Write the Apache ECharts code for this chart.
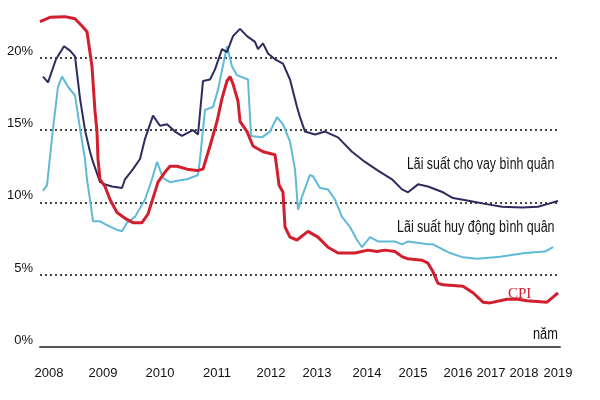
<!DOCTYPE html>
<html>
<head>
<meta charset="utf-8">
<script src="https://cdn.jsdelivr.net/npm/echarts@6/dist/echarts.min.js"></script>
<style>html,body{margin:0;padding:0;background:#fff}#c{width:600px;height:400px}</style>
</head>
<body>
<div id="c"></div>
<script>
// x axis: time index t (0..130), year labels at irregular positions as in the source graphic
const years = ['2008','2009','2010','2011','2012','2013','2014','2015','2016','2017','2018','2019'];
const yearPos = [2.25, 15.75, 30, 44.25, 57.75, 69.25, 81.75, 93.25, 104.5, 112.75, 121, 129.5];
const yTicks = [0, 5, 10, 15, 20];

// Lãi suất cho vay bình quân (%)
const lending = [
 [0.75,18.7],[2,18.3],[4,19.9],[6,20.8],[7.5,20.5],[8.75,20.1],[10,17.2],[11.25,15.0],[12.5,13.5],[13.25,12.8],
 [15,11.4],[16.75,11.2],[18,11.1],[20.5,11.0],[21.25,11.6],[23.25,12.3],[25,13.0],[26.25,14.4],[28.25,16.0],
 [30,15.3],[31.75,15.4],[33.75,14.9],[35.5,14.6],[37.5,14.9],[38.25,15.0],[39.5,14.7],[40,14.7],[40.75,18.4],
 [42.5,18.5],[43.75,19.2],[45.5,20.6],[46.75,20.4],[48.25,21.5],[50,22.0],[51.75,21.5],[53.75,21.1],[54.5,20.6],
 [55.75,21.0],[57,20.3],[58.75,19.9],[60.75,19.6],[62.5,18.5],[64.25,16.6],[65,15.9],[66.25,14.9],[68.75,14.7],
 [71.25,14.9],[74.5,14.5],[78,13.5],[81.25,12.8],[84.5,12.2],[88,11.6],[90.5,10.9],[92,10.7],[94.5,11.25],
 [97,11.1],[100.75,10.7],[103.25,10.3],[107.5,10.1],[111.25,9.9],[115.5,9.7],[120.5,9.65],[124.5,9.7],[127,9.9],[129.5,10.1]
];
// Lãi suất huy động bình quân (%)
const deposit = [
 [0.75,10.8],[1.75,11.2],[3.25,15.1],[4.5,18.0],[5.5,18.7],[7,18.0],[8.75,17.4],[10,15.1],[11.25,13.0],[11.75,11.6],
 [12.5,10.2],[13.25,8.7],[15,8.7],[16.25,8.5],[17,8.4],[19.25,8.1],[20.5,8.0],[21.75,8.6],[23.75,9.0],[26.25,10.2],
 [28,11.6],[29.25,12.8],[30.75,11.7],[32.5,11.4],[34.25,11.5],[36.75,11.6],[39.5,11.9],[40,13.0],[41.25,16.4],
 [43.25,16.6],[44.5,17.8],[46.75,20.8],[48,19.4],[49.25,18.8],[52,18.5],[52.75,14.6],[55.5,14.5],[57.5,14.9],
 [59.25,15.9],[60.75,15.4],[62.5,14.2],[63.75,12.3],[64.5,9.5],[65.5,10.4],[67.5,11.9],[68.25,11.8],[70,11.0],
 [72,10.9],[73.75,10.2],[75.5,9.0],[77.5,8.3],[79.25,7.4],[80.5,6.9],[82.5,7.6],[84.5,7.3],[88.75,7.3],[90.5,7.1],
 [92,7.3],[97,7.1],[98.25,7.1],[102.5,6.5],[105.75,6.2],[109.25,6.1],[115,6.25],[121.25,6.5],[126.25,6.6],[128.25,6.9]
];
// CPI (%)
const cpi = [
 [0,22.5],[2.5,22.8],[6.25,22.85],[8.75,22.7],[10.5,22.2],[11.75,21.8],[13,19.4],[13.75,16.3],[14.25,14.9],[14.5,13.0],
 [15,11.6],[16.25,11.1],[17.5,10.2],[19.25,9.3],[21.25,8.9],[23.25,8.6],[25.5,8.6],[27,9.2],[28.25,10.3],[29.5,11.4],
 [31.25,12.1],[32.5,12.5],[34.25,12.5],[36.75,12.3],[39.25,12.2],[40.75,12.3],[42.5,13.9],[44.25,15.6],[45.5,17.2],
 [46.75,18.4],[47.5,18.7],[48.25,18.2],[49.5,17.0],[50,15.6],[51.75,14.9],[53.25,13.9],[55.75,13.5],[58.75,13.3],
 [59.25,12.3],[59.75,11.2],[60.75,10.7],[61.25,8.3],[62.5,7.6],[64.25,7.4],[67,8.0],[69.5,7.6],[72,6.9],[74.5,6.5],
 [78.75,6.5],[82,6.7],[84.25,6.6],[86.25,6.7],[88.75,6.6],[90.5,6.25],[92,6.1],[95.5,6.0],[97,5.8],[98.25,5.2],
 [99.5,4.4],[100.75,4.3],[105.75,4.2],[108.25,3.75],[110.75,3.1],[112.5,3.05],[116.75,3.3],[119.5,3.3],[121.75,3.2],
 [126.75,3.1],[128.25,3.45],[129.5,3.75]
];

const FONT = "'Liberation Sans','Arial',sans-serif";
const chart = echarts.init(document.getElementById('c'), null, {renderer: 'canvas'});
chart.setOption({
  animation: false,
  backgroundColor: '#ffffff',
  grid: {left: 40, right: 40, top: 0, bottom: 53},
  xAxis: {
    type: 'value', min: 0, max: 130,
    axisLine: {show: true, lineStyle: {color: '#555', width: 2}},
    axisTick: {show: false},
    splitLine: {show: false},
    axisLabel: {
      customValues: yearPos,
      formatter: v => years[yearPos.indexOf(v)] || '',
      showMinLabel: true, showMaxLabel: true, hideOverlap: false,
      margin: 20, color: '#111', fontSize: 13, fontFamily: FONT
    }
  },
  yAxis: {
    type: 'value', min: 0, max: 24, interval: 5,
    axisLine: {show: false},
    axisTick: {show: false},
    splitLine: {show: true, showMinLine: false, showMaxLine: false,
      lineStyle: {color: '#444', type: [2, 3], width: 2}},
    axisLabel: {
      customValues: yTicks,
      formatter: '{value}%', margin: 7, color: '#111', fontSize: 13, fontFamily: FONT,
      verticalAlign: 'bottom'
    }
  },
  series: [
    {name: 'Lãi suất huy động bình quân', type: 'line', data: deposit, showSymbol: false,
     lineStyle: {color: '#5fbad7', width: 2}, z: 2},
    {name: 'Lãi suất cho vay bình quân', type: 'line', data: lending, showSymbol: false,
     lineStyle: {color: '#2e2b5e', width: 2}, z: 3},
    {name: 'CPI', type: 'line', data: cpi, showSymbol: false,
     lineStyle: {color: '#d11f2e', width: 3}, z: 4}
  ],
  graphic: [
    {type: 'text', x: 407, y: 165, scaleX: 0.77, style: {text: 'Lãi suất cho vay bình quân', font: '16px ' + FONT, fill: '#111', align: 'left', verticalAlign: 'middle'}},
    {type: 'text', x: 397, y: 228, scaleX: 0.78, style: {text: 'Lãi suất huy động bình quân', font: '16px ' + FONT, fill: '#111', align: 'left', verticalAlign: 'middle'}},
    {type: 'text', x: 508, y: 294, style: {text: 'CPI', font: "15px 'Liberation Serif','DejaVu Serif',serif", fill: '#d11f2e', align: 'left', verticalAlign: 'middle'}},
    {type: 'text', x: 533, y: 335, scaleX: 0.8, style: {text: 'năm', font: '16px ' + FONT, fill: '#111', align: 'left', verticalAlign: 'middle'}}
  ]
});
</script>
</body>
</html>
